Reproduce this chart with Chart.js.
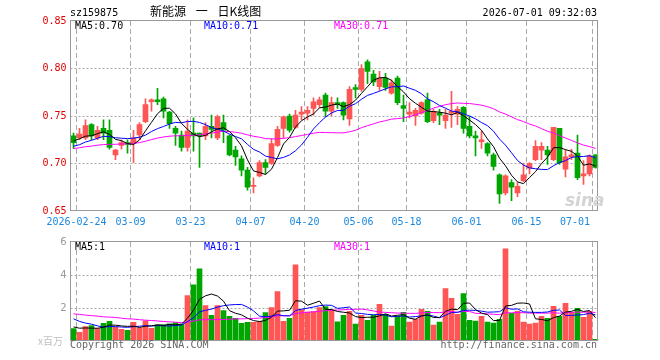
<!DOCTYPE html>
<html>
<head>
<meta charset="utf-8">
<script src="https://cdn.jsdelivr.net/npm/chart.js@4.4.1/dist/chart.umd.min.js"></script>
<style>
body { margin: 0; background: #fff; }
#wrap { position: relative; width: 660px; height: 360px; overflow: hidden; font-family: "DejaVu Sans Mono", monospace; font-size: 10px; }
#wrap canvas { position: absolute; left: 0; }
.t { position: absolute; white-space: nowrap; line-height: 10px; }
.cjk { font-family: "Noto Sans CJK SC", sans-serif; }
</style>
</head>
<body>
<div id="wrap">
  <canvas id="kChart" width="660" height="232" style="top:0;width:660px;height:232px"></canvas>
  <canvas id="vChart" width="660" height="128" style="top:232px;width:660px;height:128px"></canvas>

  <div class="t" style="left:70px;top:8px">sz159875</div>
  <div class="t cjk" style="left:150px;top:5px;font-size:12px;line-height:12px;word-spacing:7px">新能源 一 日K线图</div>
  <div class="t" style="right:63px;top:8px">2026-07-01 09:32:03</div>

  <div class="t" style="left:75px;top:21px;color:#000">MA5:0.70</div>
  <div class="t" style="left:204px;top:21px;color:#0000ff">MA10:0.71</div>
  <div class="t" style="left:334px;top:21px;color:#ff00ff">MA30:0.71</div>

  <div class="t" style="left:565px;top:192px;font-family:'DejaVu Sans',sans-serif;font-size:17px;line-height:17px;font-weight:bold;font-style:italic;color:#d4d4d4">sina</div>

  <div class="t" style="left:75px;top:242px;color:#000">MA5:1</div>
  <div class="t" style="left:204px;top:242px;color:#0000ff">MA10:1</div>
  <div class="t" style="left:334px;top:242px;color:#ff00ff">MA30:1</div>

  <div class="t cjk" style="left:38px;top:336px;color:#c0c0c0">x百万</div>
  <div class="t" style="left:70px;top:340px;color:#666">Copyright 2026 SINA.COM</div>
  <div class="t" style="right:63px;top:340px;color:#666">http://finance.sina.com.cn</div>
</div>

<script>
// trading days shown in the window
const dates = [
  '2026-02-23','2026-02-24','2026-02-25','2026-02-26','2026-02-27','2026-03-02','2026-03-03','2026-03-04','2026-03-05','2026-03-06',
  '2026-03-09','2026-03-10','2026-03-11','2026-03-12','2026-03-13','2026-03-16','2026-03-17','2026-03-18','2026-03-19','2026-03-20',
  '2026-03-23','2026-03-24','2026-03-25','2026-03-26','2026-03-27','2026-03-30','2026-03-31','2026-04-01','2026-04-02','2026-04-03',
  '2026-04-07','2026-04-08','2026-04-09','2026-04-10','2026-04-13','2026-04-14','2026-04-15','2026-04-16','2026-04-17','2026-04-20',
  '2026-04-21','2026-04-22','2026-04-23','2026-04-24','2026-04-27','2026-04-28','2026-04-29','2026-04-30','2026-05-06','2026-05-07',
  '2026-05-08','2026-05-11','2026-05-12','2026-05-13','2026-05-14','2026-05-15','2026-05-18','2026-05-19','2026-05-20','2026-05-21',
  '2026-05-22','2026-05-25','2026-05-26','2026-05-27','2026-05-28','2026-05-29','2026-06-01','2026-06-02','2026-06-03','2026-06-04',
  '2026-06-05','2026-06-08','2026-06-09','2026-06-10','2026-06-11','2026-06-12','2026-06-15','2026-06-16','2026-06-17','2026-06-18',
  '2026-06-22','2026-06-23','2026-06-24','2026-06-25','2026-06-26','2026-06-29','2026-06-30','2026-07-01'
];

const opens = [
  0.729,0.727,0.727,0.741,0.727,0.737,0.735,0.709,0.719,0.722,
  0.722,0.730,0.744,0.765,0.767,0.768,0.754,0.737,0.730,0.717,
  0.732,0.732,0.729,0.739,0.727,0.743,0.729,0.714,0.705,0.693,
  0.676,0.687,0.701,0.700,0.719,0.737,0.750,0.738,0.752,0.753,
  0.758,0.762,0.772,0.755,0.764,0.764,0.747,0.780,0.778,0.807,
  0.794,0.781,0.790,0.774,0.790,0.761,0.752,0.750,0.753,0.767,
  0.745,0.753,0.745,0.753,0.752,0.759,0.739,0.729,0.723,0.721,
  0.709,0.688,0.669,0.680,0.669,0.682,0.695,0.704,0.714,0.714,
  0.704,0.737,0.694,0.707,0.711,0.687,0.689,0.709
];
const highs = [
  0.732,0.737,0.746,0.742,0.739,0.746,0.746,0.715,0.725,0.725,
  0.735,0.743,0.768,0.768,0.779,0.770,0.755,0.739,0.734,0.746,
  0.748,0.732,0.743,0.751,0.751,0.751,0.730,0.718,0.708,0.696,
  0.685,0.703,0.704,0.726,0.739,0.750,0.752,0.756,0.760,0.760,
  0.769,0.770,0.774,0.770,0.769,0.765,0.781,0.783,0.804,0.809,
  0.798,0.797,0.795,0.788,0.792,0.772,0.764,0.758,0.765,0.774,
  0.757,0.757,0.757,0.776,0.760,0.760,0.750,0.734,0.734,0.722,
  0.711,0.689,0.688,0.683,0.680,0.700,0.701,0.724,0.722,0.718,
  0.738,0.737,0.714,0.715,0.730,0.703,0.709,0.709
];
const lows = [
  0.716,0.725,0.725,0.725,0.725,0.725,0.715,0.704,0.715,0.711,
  0.701,0.725,0.743,0.755,0.762,0.748,0.737,0.719,0.713,0.713,
  0.713,0.696,0.725,0.727,0.725,0.722,0.708,0.698,0.687,0.672,
  0.669,0.686,0.689,0.699,0.718,0.727,0.733,0.737,0.746,0.746,
  0.751,0.759,0.749,0.750,0.758,0.746,0.740,0.769,0.776,0.784,
  0.782,0.777,0.777,0.773,0.762,0.744,0.748,0.740,0.752,0.743,
  0.743,0.741,0.737,0.738,0.741,0.732,0.727,0.708,0.716,0.708,
  0.693,0.658,0.667,0.661,0.665,0.681,0.689,0.703,0.704,0.699,
  0.703,0.699,0.686,0.704,0.683,0.678,0.687,0.695
];
const closes = [
  0.722,0.731,0.740,0.729,0.735,0.732,0.717,0.714,0.722,0.720,
  0.727,0.741,0.762,0.767,0.765,0.755,0.742,0.732,0.717,0.734,
  0.729,0.729,0.739,0.736,0.749,0.735,0.709,0.707,0.693,0.675,
  0.677,0.701,0.696,0.721,0.736,0.749,0.735,0.751,0.754,0.756,
  0.765,0.767,0.755,0.764,0.762,0.751,0.778,0.778,0.800,0.797,
  0.786,0.790,0.780,0.785,0.764,0.758,0.754,0.756,0.764,0.744,
  0.755,0.751,0.751,0.755,0.757,0.737,0.729,0.727,0.725,0.711,
  0.697,0.668,0.687,0.675,0.676,0.688,0.700,0.718,0.718,0.709,
  0.738,0.701,0.707,0.709,0.685,0.689,0.708,0.696
];
// volume, millions
const volumes = [
  0.76,0.52,0.88,0.94,0.76,1.07,1.19,0.83,0.71,0.64,
  1.13,0.79,1.23,0.77,0.98,0.98,1.04,1.12,1.01,2.75,
  3.41,4.37,2.15,1.55,2.15,1.85,1.49,1.37,1.07,1.13,
  1.13,1.19,1.73,2.03,2.99,1.19,1.37,4.61,1.91,1.76,
  1.79,2.03,2.09,1.87,1.16,1.56,1.80,1.02,1.56,1.26,
  1.56,2.22,1.62,0.90,1.50,1.74,1.14,1.32,1.92,1.80,
  0.96,1.14,3.18,2.58,1.62,2.88,1.26,1.20,1.50,1.14,
  1.08,1.32,5.58,1.68,1.80,1.14,1.02,1.08,1.50,1.38,
  2.10,1.50,2.28,1.74,1.98,1.44,1.80,0.10
];
// sessions before the window (estimated), only used to warm up the moving averages
const prevCloses = [
  0.706,0.707,0.709,0.708,0.710,0.712,0.711,0.713,0.714,0.716,
  0.715,0.717,0.716,0.718,0.719,0.717,0.720,0.719,0.721,0.722,
  0.715,0.712,0.711,0.713,0.712,0.720,0.726,0.727,0.724
];
const prevVolumes = [
  1.5,2.2,1.9,1.6,2.4,1.7,1.5,2.0,1.8,1.6,
  1.9,2.1,1.4,1.7,2.0,1.8,1.6,1.9,1.7,1.6,
  2.1,1.9,1.6,1.8,1.8,0.9,0.8,1.0,0.8
];

const priceTicks = [0.70, 0.75, 0.80];
const volTicks = [2, 4];
const markedDays = [1, 10, 20, 30, 39, 48, 56, 66, 76, 87];

const UP = '#ff5555';
const DOWN = '#00a600';
const GRID = '#aaaaaa';
const FRAME = '#999999';

function movingAvg(values, prior, n) {
  const all = prior.concat(values);
  return values.map((_, i) => {
    const end = prior.length + i + 1;
    const win = all.slice(Math.max(0, end - n), end);
    return win.reduce((s, v) => s + v, 0) / win.length;
  });
}

const candleColors = closes.map((c, i) => c >= opens[i] ? UP : DOWN);

// dashed day lines, dotted level lines, frame, date labels
const panelDeco = {
  id: 'panelDeco',
  beforeDatasetsDraw(chart, args, opts) {
    const { ctx, chartArea: a, scales: { x, y } } = chart;
    ctx.save();
    ctx.strokeStyle = GRID;
    ctx.lineWidth = 1;
    ctx.setLineDash([2, 2]);
    opts.levels.forEach(v => {
      const py = Math.floor(y.getPixelForValue(v)) + 0.5;
      ctx.beginPath(); ctx.moveTo(a.left, py); ctx.lineTo(a.right, py); ctx.stroke();
    });
    ctx.setLineDash([5, 3]);
    markedDays.forEach(d => {
      const px = Math.floor(x.getPixelForValue(d) - 3) + 0.5;
      ctx.beginPath(); ctx.moveTo(px, a.top); ctx.lineTo(px, a.bottom); ctx.stroke();
    });
    ctx.restore();
  },
  afterDraw(chart, args, opts) {
    const { ctx, chartArea: a, scales: { x } } = chart;
    ctx.save();
    ctx.strokeStyle = FRAME;
    ctx.lineWidth = 1;
    const l = Math.floor(a.left) + 0.5, t = Math.floor(a.top) - 0.5;
    const r = Math.floor(a.right) - 0.5, b = Math.round(a.bottom) - 0.5;
    ctx.strokeRect(l, t, r - l, b - t);
    if (opts.dateLabels) {
      ctx.font = '10px "DejaVu Sans Mono"';
      ctx.fillStyle = '#1a88e0';
      ctx.textAlign = 'center';
      ctx.textBaseline = 'alphabetic';
      markedDays.forEach((d, k) => {
        const txt = k === 0 ? dates[d] : dates[d].slice(5);
        const w = ctx.measureText(txt).width;
        const cx = Math.min(x.getPixelForValue(d) - 3, a.right - 8.5 - w / 2);
        ctx.fillText(txt, cx, a.bottom + 14);
      });
    }
    ctx.restore();
  }
};

function maLine(data, color) {
  return { type: 'line', data: data, borderColor: color, borderWidth: 1, pointRadius: 0, tension: 0, order: 0 };
}

new Chart(document.getElementById('kChart'), {
  type: 'bar',
  data: {
    labels: dates,
    datasets: [
      maLine(movingAvg(closes, prevCloses, 5), '#000000'),
      maLine(movingAvg(closes, prevCloses, 10), '#0000ff'),
      maLine(movingAvg(closes, prevCloses, 30), '#ff00ff'),
      {
        data: opens.map((o, i) => [o, closes[i]]),
        backgroundColor: candleColors,
        barThickness: 5, minBarLength: 1, grouped: false, order: 1
      },
      {
        data: lows.map((l, i) => [l, highs[i]]),
        backgroundColor: candleColors,
        barThickness: 1, grouped: false, order: 2
      }
    ]
  },
  options: {
    responsive: false,
    animation: false,
    events: [],
    layout: { padding: { top: 21, right: 61.5, left: 0.5, bottom: 21 } },
    plugins: {
      legend: { display: false },
      tooltip: { enabled: false },
      panelDeco: { levels: priceTicks, dateLabels: true }
    },
    scales: {
      x: { display: false, offset: true },
      y: {
        min: 0.65, max: 0.85,
        afterFit(s) { s.width = 70; },
        grid: { display: false, drawTicks: false },
        border: { display: false },
        ticks: {
          stepSize: 0.05, padding: 4, color: '#e00000',
          font: { family: 'DejaVu Sans Mono', size: 10 },
          callback: v => v.toFixed(2)
        }
      }
    }
  },
  plugins: [panelDeco]
});

new Chart(document.getElementById('vChart'), {
  type: 'bar',
  data: {
    labels: dates,
    datasets: [
      maLine(movingAvg(volumes, prevVolumes, 5), '#000000'),
      maLine(movingAvg(volumes, prevVolumes, 10), '#0000ff'),
      maLine(movingAvg(volumes, prevVolumes, 30), '#ff00ff'),
      { data: volumes, backgroundColor: candleColors, barThickness: 5, grouped: false, order: 1 }
    ]
  },
  options: {
    responsive: false,
    animation: false,
    events: [],
    layout: { padding: { top: 9, right: 61.5, left: 0.5, bottom: 19 } },
    plugins: {
      legend: { display: false },
      tooltip: { enabled: false },
      panelDeco: { levels: volTicks, dateLabels: false }
    },
    scales: {
      x: { display: false, offset: true },
      y: {
        min: 0, max: 6,
        afterFit(s) { s.width = 70; },
        grid: { display: false, drawTicks: false },
        border: { display: false },
        ticks: {
          stepSize: 2, padding: 4, color: '#999999',
          font: { family: 'DejaVu Sans', size: 10 },
          callback: v => v === 0 ? '' : v
        }
      }
    }
  },
  plugins: [panelDeco]
});
</script>
</body>
</html>
